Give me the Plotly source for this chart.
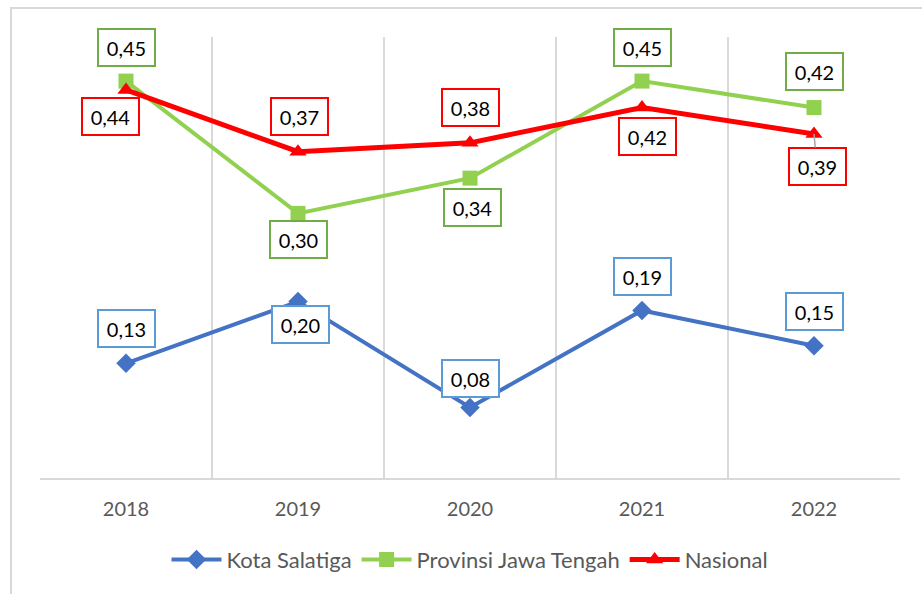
import plotly.graph_objects as go

years = ["2018", "2019", "2020", "2021", "2022"]
kota_salatiga = [0.13, 0.20, 0.08, 0.19, 0.15]
jawa_tengah = [0.45, 0.30, 0.34, 0.45, 0.42]
nasional = [0.44, 0.37, 0.38, 0.42, 0.39]

series_names = ["Kota Salatiga", "Provinsi Jawa Tengah", "Nasional"]

# label offsets (pixels) relative to each point
blue_off = [(0, -35), (2, 23), (0, -29), (0, -34), (0, -34)]
green_off = [(0, -34), (0, 26), (2, 29), (0, -34), (0, -36)]
red_off = [(-16, 27), (1, -35), (0, -35), (5, 29), (3, 32)]

fig = go.Figure()

styles = [
    (kota_salatiga, "#4472C4", "diamond", 4, "#5B9BD5", blue_off),
    (jawa_tengah, "#92D050", "square", 4, "#70AD47", green_off),
    (nasional, "#FF0000", "triangle-up", 5, "#FF0000", red_off),
]

for name, (vals, col, sym, lw, bcol, offs) in zip(series_names, styles):
    fig.add_trace(go.Scatter(
        x=years, y=vals, name=name, mode="lines+markers",
        line=dict(color=col, width=lw),
        marker=dict(symbol=sym, size=15, color=col),
    ))

annotations = []
for name, (vals, col, sym, lw, bcol, offs) in zip(series_names, styles):
    for i, (yr, v) in enumerate(zip(years, vals)):
        dx, dy = offs[i]
        leader = (name == "Nasional" and yr == "2022")
        a = dict(
            x=i, y=v, xref="x", yref="y",
            text=f"{v:.2f}".replace(".", ","),
            font=dict(family="Lato, sans-serif", size=20, color="#000000"),
            bgcolor="#FFFFFF", bordercolor=bcol, borderwidth=2, borderpad=4,
            width=47, height=27,
        )
        if leader:
            a.update(showarrow=True, ax=dx, ay=dy, arrowcolor="#A6A6A6",
                     arrowwidth=1.5, arrowhead=0)
        else:
            a.update(showarrow=False, xshift=dx, yshift=-dy)
        annotations.append(a)

fig.update_layout(
    width=922, height=594,
    margin=dict(l=40, r=22, t=37, b=116),
    paper_bgcolor="#FFFFFF", plot_bgcolor="#FFFFFF",
    font=dict(family="Lato, sans-serif", color="#595959"),
    showlegend=True,
    annotations=annotations,
    shapes=[dict(type="rect", xref="paper", yref="paper",
                 x0=-0.0337, x1=1.06, y0=-0.35, y1=1.0658,
                 line=dict(color="#D9D9D9", width=2), layer="below")],
    legend=dict(orientation="h", x=0.5, xanchor="center", y=-0.185, yanchor="middle",
                font=dict(size=22, color="#595959"), itemwidth=50,
                traceorder="normal"),
)
fig.update_xaxes(
    type="category", range=[-0.5, 4.5], tickson="boundaries",
    showgrid=True, gridcolor="#D9D9D9", gridwidth=2,
    showline=True, linecolor="#D9D9D9", linewidth=2,
    ticks="", ticklabelstandoff=12,
    tickfont=dict(size=20, color="#595959"),
)
fig.update_yaxes(range=[0, 0.5], showgrid=False, zeroline=False,
                 showticklabels=False, showline=False)

fig.write_html("out.html", config={"displayModeBar": False},
               post_script="document.body.style.margin='0';")
